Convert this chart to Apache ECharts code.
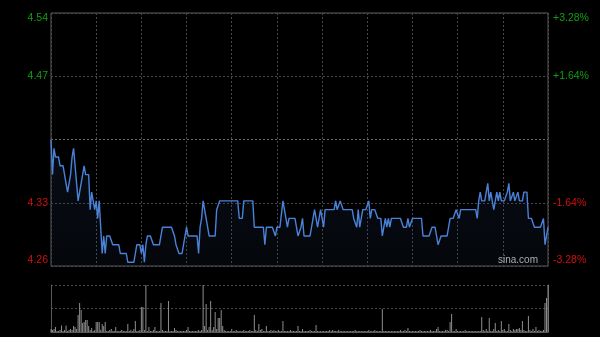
<!DOCTYPE html>
<html><head><meta charset="utf-8">
<script src="https://cdn.jsdelivr.net/npm/echarts@6/dist/echarts.min.js"></script>
<style>html,body{margin:0;padding:0;background:#000;}#c{width:600px;height:337px;}</style>
</head><body><div id="c"></div>
<script>
// previous close and the symmetric range shown (±3.28%)
const prevClose = 4.40;
const rangePct = 200 / 61;            // 3.28 %
// minute-by-minute price (331 minutes, 09:30-16:00 HK session)
const price = [
4.40,4.36,4.39,4.38,4.38,4.38,4.37,4.37,4.37,4.37,
4.35,4.34,4.34,4.36,4.38,4.39,4.37,4.35,4.33,4.34,
4.34,4.36,4.37,4.36,4.36,4.36,4.32,4.34,4.33,4.32,
4.33,4.31,4.33,4.33,4.27,4.29,4.27,4.29,4.29,4.29,
4.29,4.28,4.28,4.28,4.28,4.28,4.27,4.27,4.27,4.27,
4.27,4.26,4.26,4.26,4.26,4.26,4.27,4.28,4.28,4.28,
4.27,4.28,4.26,4.28,4.29,4.29,4.29,4.29,4.28,4.28,
4.28,4.28,4.28,4.28,4.30,4.30,4.30,4.30,4.30,4.30,
4.30,4.30,4.29,4.28,4.28,4.27,4.27,4.27,4.28,4.29,
4.30,4.29,4.29,4.29,4.29,4.29,4.29,4.29,4.27,4.30,
4.31,4.33,4.32,4.31,4.30,4.29,4.29,4.29,4.29,4.29,
4.32,4.32,4.33,4.33,4.33,4.33,4.33,4.33,4.33,4.33,
4.33,4.33,4.33,4.33,4.33,4.31,4.31,4.31,4.33,4.33,
4.33,4.33,4.33,4.33,4.33,4.30,4.30,4.30,4.30,4.30,
4.30,4.30,4.28,4.30,4.30,4.30,4.30,4.30,4.30,4.29,
4.30,4.30,4.30,4.30,4.33,4.33,4.31,4.30,4.31,4.31,
4.31,4.31,4.31,4.30,4.29,4.29,4.30,4.31,4.29,4.29,
4.29,4.29,4.29,4.29,4.31,4.32,4.31,4.30,4.31,4.32,
4.31,4.30,4.32,4.32,4.32,4.32,4.32,4.32,4.32,4.33,
4.32,4.32,4.33,4.33,4.32,4.32,4.32,4.32,4.32,4.32,
4.32,4.31,4.31,4.30,4.32,4.30,4.31,4.32,4.32,4.32,
4.32,4.33,4.31,4.32,4.32,4.32,4.32,4.31,4.31,4.31,
4.29,4.30,4.31,4.30,4.31,4.30,4.31,4.31,4.31,4.31,
4.31,4.31,4.31,4.31,4.30,4.30,4.30,4.31,4.30,4.30,
4.31,4.31,4.31,4.31,4.31,4.31,4.31,4.29,4.29,4.29,
4.29,4.29,4.29,4.30,4.30,4.30,4.29,4.28,4.28,4.29,
4.29,4.29,4.29,4.29,4.30,4.31,4.31,4.31,4.31,4.32,
4.32,4.31,4.32,4.32,4.32,4.32,4.32,4.32,4.32,4.32,
4.32,4.32,4.32,4.31,4.33,4.34,4.33,4.33,4.33,4.33,
4.35,4.33,4.34,4.33,4.32,4.33,4.34,4.33,4.34,4.33,
4.33,4.33,4.33,4.34,4.35,4.33,4.33,4.34,4.33,4.33,
4.34,4.33,4.33,4.33,4.34,4.34,4.34,4.31,4.31,4.31,
4.31,4.30,4.30,4.30,4.30,4.30,4.30,4.31,4.28,4.29,
4.30
];
// minute volume (relative units)
const volume = [
3,2,3,5,1,1,2,6.5,1,2,
6.5,1,2,3,2,6,5,3,17,29,
22,9,10,12,12,6,2,4,1,2,
10,10,10,2,8,6,10,1,1,2,
3,1,1,5,1,1,1,2,1,1,
1,8,1,2,1,3,11,1,1,2,
25,25,2,47,1,5,1,1,2,5,
1,1,1,29,2,1,1,1,31,1,
1,1,4,2,1,1,1,1,1,1,
2,5,1,1,1,1,1,1,2,1,
2,47,6,28,2,5,31,2,5,20,
3,14,14,22,6,2,1,1,1,1,
3,1,1,2,1,1,1,1,2,1,
1,1,2,1,1,17,2,1,8,2,
3,1,1,6,1,1,2,1,2,1,
1,2,1,1,11,1,1,1,1,2,
1,1,1,1,6,1,1,3,1,1,
1,1,2,1,1,1,7,1,1,1,
1,1,1,1,1,2,1,2,1,1,
1,2,1,1,1,1,1,1,1,1,
1,1,2,1,1,1,1,1,1,1,
1,2,1,1,1,2,1,1,1,1,
23,1,1,1,1,1,1,1,1,1,
1,1,2,1,1,2,1,4,1,1,
1,1,1,1,1,2,1,1,1,1,
1,1,2,1,1,1,3,5,1,1,
1,1,2,2,1,10,18,1,1,3,
1,1,1,1,1,2,1,1,1,1,
1,1,1,1,1,1,15,2,1,3,
1,14,1,1,3,9,1,2,1,11,
2,3,1,1,8,2,1,3,2,3,
3,4,2,11,2,1,1,16,2,1,
3,1,5,1,2,1,1,2,29,34,
47
];
const priceLabels = ['4.26','4.33','4.47','4.54'];
const pctLabels = ['-3.28%','-1.64%','+1.64%','+3.28%'];
const minutesTotal = 330;

const pStep = prevClose * rangePct / 200;
const pMin = prevClose - 2 * pStep, pMax = prevClose + 2 * pStep;
const priceVals = [pMin, prevClose - pStep, prevClose + pStep, pMax];
const pctStep = rangePct / 2;
const pctVals = [-2 * pctStep, -pctStep, pctStep, 2 * pctStep];
const volMax = Math.max.apply(null, volume);

const UP = '#129e12', DN = '#d01010';
const FONT = 'Liberation Sans, Arial, sans-serif';
const rich = {
  ut: {color: UP, padding: [11, 0, 0, 0], fontSize: 10.5, fontFamily: FONT},
  u:  {color: UP, fontSize: 10.5, fontFamily: FONT},
  d:  {color: DN, fontSize: 10.5, fontFamily: FONT},
  db: {color: DN, padding: [0, 0, 11, 0], fontSize: 10.5, fontFamily: FONT}
};
function pick(vals, v) {
  let k = 0, best = Infinity;
  vals.forEach((x, i) => { const d = Math.abs(x - v); if (d < best) { best = d; k = i; } });
  return k;
}
const styleKeys = ['db', 'd', 'u', 'ut'];

const chart = echarts.init(document.getElementById('c'), null, {renderer: 'canvas'});
chart.setOption({
  backgroundColor: '#000',
  animation: false,
  grid: [
    {left: 51, top: 13, width: 497, height: 253, show: true, borderColor: '#5a5a5a', borderWidth: 1, backgroundColor: 'transparent'},
    {left: 51, top: 285, width: 497, height: 47, show: false}
  ],
  xAxis: [
    {type: 'value', gridIndex: 0, min: 0, max: minutesTotal, interval: 30,
     axisLabel: {show: false}, axisTick: {show: false}, axisLine: {show: false},
     splitLine: {show: true, lineStyle: {color: '#4a4a4a', type: [2, 2], width: 1}}},
    {type: 'value', gridIndex: 1, min: 0, max: minutesTotal, interval: 30,
     axisLabel: {show: false}, axisTick: {show: false},
     axisLine: {show: true, lineStyle: {color: '#5a5a5a'}}, splitLine: {show: false}}
  ],
  yAxis: [
    {type: 'value', gridIndex: 0, position: 'left', min: pMin, max: pMax, scale: true,
     axisLine: {show: false}, axisTick: {show: false}, splitLine: {show: false},
     axisLabel: {show: true, margin: 3, customValues: priceVals,
       formatter: v => { const k = pick(priceVals, v); return '{' + styleKeys[k] + '|' + priceLabels[k] + '}'; },
       rich: rich}},
    {type: 'value', gridIndex: 0, position: 'right', min: -2 * pctStep, max: 2 * pctStep, interval: pctStep,
     axisLine: {show: false}, axisTick: {show: false},
     splitLine: {show: true, lineStyle: {color: ['#4a4a4a', '#4a4a4a', '#6a6a6a', '#4a4a4a', '#4a4a4a'], type: [2, 2], width: 1}},
     axisLabel: {show: true, margin: 5, customValues: pctVals,
       formatter: v => { if (Math.abs(v) < 1e-9) return ''; const k = pick(pctVals, v); return '{' + styleKeys[k] + '|' + pctLabels[k] + '}'; },
       rich: rich}},
    {type: 'value', gridIndex: 1, position: 'left', min: 0, max: volMax, interval: volMax / 2,
     axisLine: {show: true, lineStyle: {color: '#5a5a5a'}}, axisTick: {show: false}, axisLabel: {show: false},
     splitLine: {show: true, lineStyle: {color: '#4a4a4a', type: [2, 2]}}},
    {type: 'value', gridIndex: 1, position: 'right', min: 0, max: volMax,
     axisLine: {show: true, lineStyle: {color: '#5a5a5a'}}, axisTick: {show: false}, axisLabel: {show: false},
     splitLine: {show: false}}
  ],
  series: [
    {type: 'line', xAxisIndex: 0, yAxisIndex: 0, data: price.map((p, i) => [i, p]),
     showSymbol: false, symbol: 'none', smooth: false,
     lineStyle: {color: '#4a82d8', width: 1.4},
     areaStyle: {origin: 'start', color: new echarts.graphic.LinearGradient(0, 0, 0, 1, [
       {offset: 0, color: 'rgba(40,60,105,0.30)'}, {offset: 1, color: 'rgba(30,45,75,0.22)'}])},
     z: 3},
    {type: 'bar', xAxisIndex: 1, yAxisIndex: 2, data: volume.map((v, i) => [i, v]),
     barWidth: 1, itemStyle: {color: '#8e8e8e'}, large: false}
  ],
  graphic: [
    {type: 'text', left: 498, top: 255, z: 10,
     style: {text: 'sina.com', fill: '#adadad', font: '10px ' + FONT}}
  ]
});
</script>
</body></html>
